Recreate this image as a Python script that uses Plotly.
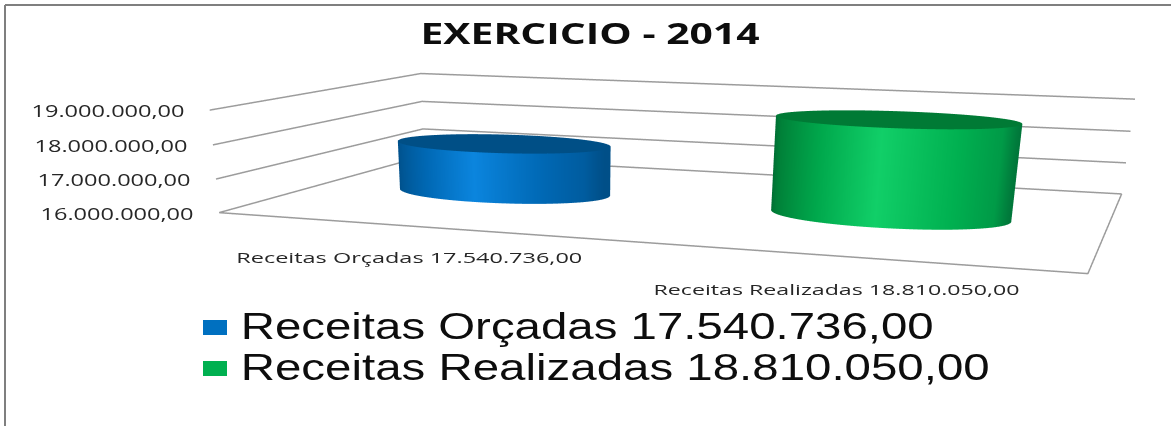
import json
import numpy as np
import plotly.graph_objects as go

categories = ["Receitas Orçadas 17.540.736,00", "Receitas Realizadas 18.810.050,00"]
values = [17540736.0, 18810050.0]
tick_values = [16000000, 17000000, 18000000, 19000000]
tick_labels = ["16.000.000,00", "17.000.000,00", "18.000.000,00", "19.000.000,00"]
title_text = "EXERCICIO - 2014"

FIG_H = 1300
PAD = 0.02
side_scale = {
    0: [[0,"#004a80"],[0.05,"#00538f"],[0.25,"#0068b4"],[0.5,"#0b85de"],[0.8,"#0068b4"],[0.95,"#005c9f"],[1,"#004f88"]],
    1: [[0,"#006a33"],[0.05,"#008038"],[0.25,"#00a84c"],[0.5,"#11cf68"],[0.8,"#00b050"],[0.95,"#009a47"],[1,"#00773a"]],
}
cap_color = {0: "#004f86", 1: "#007a35"}
grid_color = "#9c9c9c"
Z0 = tick_values[0]; Z1 = tick_values[-1]
RX, RY = 0.285, 0.165
theta = np.linspace(0, 2*np.pi, 121)
flat = dict(ambient=1, diffuse=0, specular=0, fresnel=0, roughness=1)

fig = go.Figure()
for z in tick_values:
    fig.add_trace(go.Scatter3d(x=[0,0,2], y=[0,1,1], z=[z,z,z], mode="lines",
        line=dict(color=grid_color, width=3), hoverinfo="skip", showlegend=False))
fig.add_trace(go.Scatter3d(x=[0,2,2], y=[0,0,1], z=[Z0,Z0,Z0], mode="lines",
    line=dict(color=grid_color, width=3), hoverinfo="skip", showlegend=False))
for i, v in enumerate(values):
    cx = i + 0.5
    X = cx + RX*np.cos(theta); Y = 0.5 + RY*np.sin(theta)
    fig.add_trace(go.Surface(
        x=np.vstack([X,X]), y=np.vstack([Y,Y]), z=np.vstack([np.full_like(X,Z0),np.full_like(X,v)]),
        surfacecolor=np.vstack([np.cos(theta),np.cos(theta)]), cmin=-1, cmax=1,
        colorscale=side_scale[i], showscale=False, hoverinfo="skip", lighting=flat))
    fig.add_trace(go.Surface(
        x=np.vstack([np.full_like(X,cx),X]), y=np.vstack([np.full_like(Y,0.5),Y]),
        z=np.full((2,len(X)),v), surfacecolor=np.zeros((2,len(X))), cmin=-1, cmax=1,
        colorscale=[[0,cap_color[i]],[1,cap_color[i]]], showscale=False, hoverinfo="skip", lighting=flat))

def py(px): return 1 - px/FIG_H
def px_x(px): return px/1171

hidden = dict(visible=False, showgrid=False, showbackground=False, zeroline=False)
scene_notes = [dict(x=0, y=0, z=t, text=l, showarrow=False, xanchor="center", xshift=-102, yshift=-1,
                    font=dict(family="Open Sans", size=16, color="#262626"))
               for t, l in zip(tick_values, tick_labels)]
zmid = (Z0+Z1)/2; zhalf = (Z1-Z0)/2*(1+PAD)
fig.update_layout(
    width=1171, height=FIG_H, autosize=False, margin=dict(l=0,r=0,t=0,b=0),
    paper_bgcolor="white", showlegend=False,
    title=dict(text=title_text, x=590/1171, xanchor="center", y=py(34), yanchor="middle",
               font=dict(family="Open Sans", size=29, color="#0d0d0d", weight="bold")),
    scene=dict(domain=dict(x=[0,1],y=[0,1]),
        xaxis=dict(range=[1-(1+PAD),1+(1+PAD)],**hidden),
        yaxis=dict(range=[0.5-0.5*(1+PAD),0.5+0.5*(1+PAD)],**hidden),
        zaxis=dict(range=[zmid-zhalf,zmid+zhalf],**hidden),
        aspectmode="manual", aspectratio=dict(x=1+PAD,y=0.5583*(1+PAD),z=0.1164*(1+PAD)),
        camera=dict(eye=dict(x=0.5837,y=-1.9259,z=0.2496),center=dict(x=0.0293,y=-0.4399,z=-0.4775),
                    up=dict(x=-0.0563,y=0.1407,z=1),projection=dict(type="perspective")),
        annotations=scene_notes),
)
cat_pos = [(409,257),(836,289)]
for c,(x,y) in zip(categories,cat_pos):
    fig.add_annotation(x=px_x(x),y=py(y),xref="paper",yref="paper",text=c,showarrow=False,
        xanchor="center",yanchor="middle",font=dict(family="Open Sans",size=14,color="#262626"))
leg_y=[327,368]; leg_col=["#0070c0","#00b050"]; leg_cx=[(240+933)/2,(240+989)/2]
for c,y,col,cx in zip(categories,leg_y,leg_col,leg_cx):
    fig.add_annotation(x=px_x(cx),y=py(y),xref="paper",yref="paper",text=c,showarrow=False,
        xanchor="center",yanchor="middle",font=dict(family="Liberation Sans",size=36,color="#0d0d0d"))
    fig.add_shape(type="rect",xref="paper",yref="paper",x0=px_x(203),x1=px_x(227),y0=py(y-7),y1=py(y+8),
        line=dict(width=0),fillcolor=col)
fig.add_shape(type="line",xref="paper",yref="paper",x0=px_x(5),x1=px_x(5),y0=py(5),y1=0,line=dict(color="#7f7f7f",width=2))
fig.add_shape(type="line",xref="paper",yref="paper",x0=px_x(5),x1=1,y0=py(5),y1=py(5),line=dict(color="#7f7f7f",width=2))

widths = {title_text:339, tick_labels[0]:153, tick_labels[1]:153, tick_labels[2]:153, tick_labels[3]:153}
post = """
document.documentElement.style.overflow='hidden';
document.body.style.overflow='hidden';
document.body.style.margin='0';
var W=%s, C=%s, L=%s;
function stretch(){
  document.querySelectorAll('.annotation-text, .gtitle').forEach(function(t){
    var s=t.textContent, w=W[s];
    if(!w && s==C[0]) w = t.style.fontSize=='36px'? L[0][0]:L[0][1];
    if(!w && s==C[1]) w = t.style.fontSize=='36px'? L[1][0]:L[1][1];
    if(w && t.getAttribute('textLength')!=String(w)){
      t.setAttribute('textLength',w); t.setAttribute('lengthAdjust','spacingAndGlyphs');
    }
  });
}
stretch(); setInterval(stretch,100);
""" % (json.dumps(widths,ensure_ascii=False),json.dumps(categories,ensure_ascii=False),json.dumps([[693,346],[749,366]]))
fig.write_html("out.html", post_script=post, config=dict(displayModeBar=False))
